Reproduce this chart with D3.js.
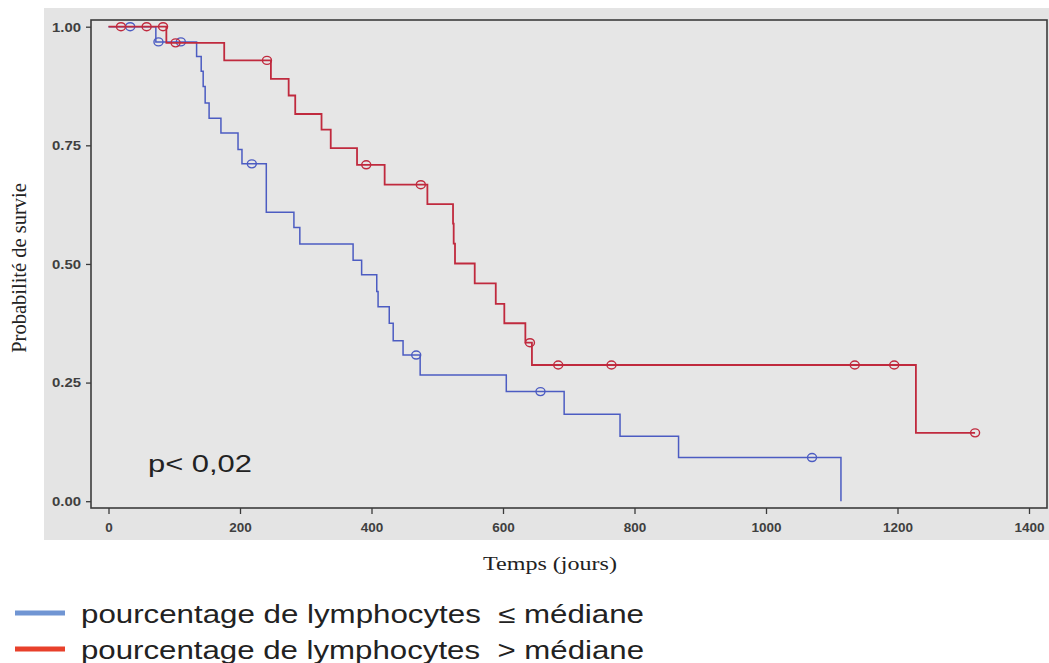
<!DOCTYPE html>
<html>
<head>
<meta charset="utf-8">
<script src="https://cdn.jsdelivr.net/npm/d3@7"></script>
<style>
  html, body { margin: 0; padding: 0; background: #ffffff; }
  svg { display: block; }
  text.pre { white-space: pre; }
</style>
</head>
<body>
<svg id="chart" width="1049" height="663"></svg>
<script>
// ---- Data ----
const xTicks = [0, 200, 400, 600, 800, 1000, 1200, 1400];
const yTicks = [0, 0.25, 0.5, 0.75, 1.0];

// Group ≤ médiane (blue)
const lowTimes = [0, 72, 134, 141, 144, 147, 153, 171, 197, 203, 240, 282, 291, 372, 385, 408, 410, 427, 433, 448, 474, 605, 693, 778, 867, 1114];
const lowSurv  = [1.0, 0.968, 0.937, 0.906, 0.874, 0.839, 0.807, 0.776, 0.741, 0.711, 0.609, 0.577, 0.542, 0.508, 0.477, 0.442, 0.410, 0.375, 0.338, 0.308, 0.266, 0.231, 0.183, 0.137, 0.092, 0.0];
const lowCensorTimes = [33, 76, 110, 218, 468, 657, 1070];

// Group > médiane (red)
const highTimes = [0, 88, 176, 247, 274, 284, 324, 338, 378, 420, 485, 524, 525, 527, 557, 589, 602, 634, 644, 1228, 1318];
const highSurv  = [1.0, 0.966, 0.929, 0.890, 0.855, 0.816, 0.783, 0.744, 0.709, 0.667, 0.626, 0.585, 0.543, 0.501, 0.459, 0.416, 0.375, 0.334, 0.287, 0.144, 0.144];
const highCensorTimes = [19, 58, 83, 102, 241, 392, 475, 641, 684, 765, 1135, 1195, 1318];

const legendLabels = ["pourcentage de lymphocytes  \u2264 médiane", "pourcentage de lymphocytes  > médiane"];

// ---- Helpers ----
function survAt(times, surv, t) {
  let s = surv[0];
  for (let i = 0; i < times.length; i++) { if (times[i] <= t) s = surv[i]; }
  return s;
}

const svg = d3.select("#chart");

// outer grey panel
svg.append("rect").attr("x", 44).attr("y", 8).attr("width", 1005).attr("height", 532).attr("fill", "#e4e4e4");

const x = d3.scaleLinear().domain([0, 1400]).range([108.5, 1029]);
const y = d3.scaleLinear().domain([0, 1]).range([501.2, 26.7]);

// plot area
svg.append("rect").attr("x", 91).attr("y", 20).attr("width", 956).attr("height", 488)
  .attr("fill", "#e6e6e6").attr("stroke", "none");

// axes
const gx = svg.append("g").attr("transform", "translate(0,508)")
  .call(d3.axisBottom(x).tickValues(xTicks).tickSize(6).tickPadding(8).tickFormat(d3.format("d")));
const gy = svg.append("g").attr("transform", "translate(91,0)")
  .call(d3.axisLeft(y).tickValues(yTicks).tickSize(5).tickPadding(5).tickFormat(d3.format(".2f")));
[gx, gy].forEach(g => {
  g.select(".domain").remove();
  g.selectAll(".tick line").attr("stroke", "#3a3a3a").attr("stroke-width", 1.3);
  g.selectAll(".tick text").attr("fill", "#3f3f3f").attr("font-family", "Liberation Sans, Arial, sans-serif")
    .attr("font-weight", "bold").attr("font-size", 13.5);
});
gy.selectAll(".tick text").attr("textLength", 29).attr("lengthAdjust", "spacingAndGlyphs");

// frame
svg.append("rect").attr("x", 91).attr("y", 20).attr("width", 956).attr("height", 488)
  .attr("fill", "none").attr("stroke", "#3c3c3c").attr("stroke-width", 1.6);

// curves
const line = d3.line().curve(d3.curveStepAfter).x(d => x(d[0])).y(d => y(d[1]));
const series = [
  {times: lowTimes, surv: lowSurv, censor: lowCensorTimes, color: "#4c5cc2", width: 1.5},
  {times: highTimes, surv: highSurv, censor: highCensorTimes, color: "#c02a3e", width: 1.8}
];
series.forEach(s => {
  const pts = s.times.map((t, i) => [t, s.surv[i]]);
  svg.append("path").datum(pts).attr("d", line).attr("fill", "none")
    .attr("stroke", s.color).attr("stroke-width", s.width);
  svg.append("g").selectAll("ellipse").data(s.censor).join("ellipse")
    .attr("cx", d => x(d)).attr("cy", d => y(survAt(s.times, s.surv, d)))
    .attr("rx", 4.5).attr("ry", 4).attr("fill", "none")
    .attr("stroke", s.color).attr("stroke-width", 1.4);
});

// p-value
svg.append("text").attr("x", 148).attr("y", 472).text("p< 0,02")
  .attr("font-family", "Liberation Sans, Arial, sans-serif").attr("font-size", 23).attr("fill", "#222")
  .attr("textLength", 104).attr("lengthAdjust", "spacingAndGlyphs");

// axis titles
svg.append("text").attr("x", 483).attr("y", 570).text("Temps (jours)")
  .attr("font-family", "Liberation Serif, Times New Roman, serif").attr("font-size", 19).attr("fill", "#222")
  .attr("textLength", 134).attr("lengthAdjust", "spacingAndGlyphs");
svg.append("text").attr("transform", "translate(26,268) rotate(-90)").attr("text-anchor", "middle")
  .text("Probabilité de survie")
  .attr("font-family", "Liberation Serif, Times New Roman, serif").attr("font-size", 20.5).attr("fill", "#222");

// legend
const legendColors = ["#7095d3", "#e8402b"];
const legendY = [613, 649];
legendLabels.forEach((lab, i) => {
  svg.append("line").attr("x1", 15).attr("x2", 65).attr("y1", legendY[i]).attr("y2", legendY[i])
    .attr("stroke", legendColors[i]).attr("stroke-width", 5);
  svg.append("text").attr("class", "pre").attr("x", 81).attr("y", legendY[i] + 10).text(lab)
    .attr("font-family", "Liberation Sans, Arial, sans-serif").attr("font-size", 25).attr("fill", "#222")
    .attr("textLength", 563).attr("lengthAdjust", "spacingAndGlyphs");
});
</script>
</body>
</html>
